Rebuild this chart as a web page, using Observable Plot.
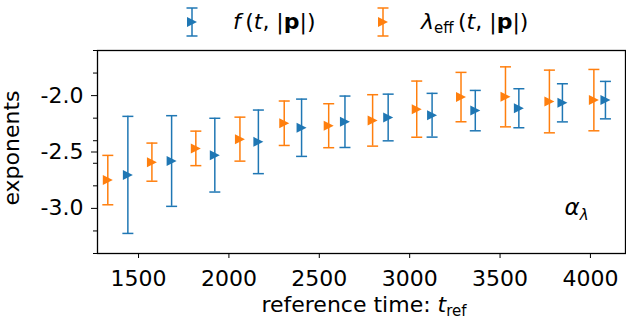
<!DOCTYPE html>
<html>
<head>
<meta charset="utf-8">
<script src="https://cdn.jsdelivr.net/npm/d3@7"></script>
<script src="https://cdn.jsdelivr.net/npm/@observablehq/plot@0.6"></script>
<style>
  html, body { margin: 0; padding: 0; background: #fff; }
  #wrap { position: relative; width: 626px; height: 321px; font-family: "DejaVu Sans", sans-serif; }
  .leg { position: absolute; top: 0; font-size: 22px; line-height: 1; white-space: nowrap; }
  .leg i { font-style: italic; }
  .leg sub { font-size: 15px; vertical-align: -4px; font-style: normal; }
</style>
</head>
<body>
<div id="wrap"></div>
<script>
// λ_eff(t,|p|) series (orange)
const tLambda = [1330, 1574, 1817, 2061, 2306, 2552, 2795, 3039, 3284, 3530, 3773, 4019];
const lambdaVal = [-2.749, -2.590, -2.468, -2.386, -2.245, -2.267, -2.220, -2.120, -2.013, -2.011, -2.052, -2.040];
const lambdaErr = [0.219, 0.169, 0.153, 0.195, 0.197, 0.195, 0.228, 0.249, 0.219, 0.266, 0.278, 0.272];
// f(t,|p|) series (blue)
const tF = [1441, 1683, 1922, 2163, 2402, 2642, 2881, 3124, 3363, 3604, 3845, 4083];
const fVal = [-2.703, -2.580, -2.528, -2.410, -2.285, -2.232, -2.194, -2.174, -2.133, -2.112, -2.064, -2.040];
const fErr = [0.519, 0.402, 0.327, 0.282, 0.254, 0.228, 0.207, 0.194, 0.179, 0.173, 0.169, 0.166];
// ticks
const xTicks = [1500, 2000, 2500, 3000, 3500, 4000];
const yTicks = [-3.0, -2.5, -2.0];
const yMinorTicks = [-3.4, -3.2, -2.8, -2.6, -2.4, -2.2, -1.8, -1.6];

const BLUE = "#1f77b4", ORANGE = "#ff7f0e";

const fData = tF.map((t, i) => ({t, v: fVal[i], lo: fVal[i] - fErr[i], hi: fVal[i] + fErr[i]}));
const lData = tLambda.map((t, i) => ({t, v: lambdaVal[i], lo: lambdaVal[i] - lambdaErr[i], hi: lambdaVal[i] + lambdaErr[i]}));

const triRight = {draw(ctx, size) { const r = Math.sqrt(size / Math.PI); ctx.moveTo(r, 0); ctx.lineTo(-r, -r); ctx.lineTo(-r, r); ctx.closePath(); }};
const cap = {draw(ctx, size) { const r = Math.sqrt(size / Math.PI); ctx.moveTo(-r, 0); ctx.lineTo(r, 0); }};

function series(data, color) {
  return [
    Plot.ruleX(data, {x: "t", y1: "lo", y2: "hi", stroke: color, strokeWidth: 1.5}),
    Plot.dot(data, {x: "t", y: "lo", symbol: cap, r: 5.5, stroke: color, strokeWidth: 1.5, fill: "none"}),
    Plot.dot(data, {x: "t", y: "hi", symbol: cap, r: 5.5, stroke: color, strokeWidth: 1.5, fill: "none"}),
    Plot.dot(data, {x: "t", y: "v", symbol: triRight, r: 5, fill: color, stroke: "none"})
  ];
}

const chart = Plot.plot({
  width: 626,
  height: 321,
  marginTop: 50,
  marginLeft: 97,
  marginRight: 1,
  marginBottom: 68,
  style: {fontFamily: "DejaVu Sans, sans-serif", fontSize: "22px", color: "black", background: "white"},
  x: {domain: [1273, 4194]},
  y: {domain: [-3.4, -1.6]},
  marks: [
    Plot.axisX(xTicks, {tickSize: 5, tickPadding: 12, tickFormat: d => String(d), label: null, fontSize: 22}),
    Plot.axisY(yTicks, {tickSize: 6, tickPadding: 8, tickFormat: d => d.toFixed(1), label: null, fontSize: 22}),
    Plot.axisY(yMinorTicks, {tickSize: 4, tickFormat: () => "", label: null}),
    ...series(fData, BLUE),
    ...series(lData, ORANGE),
    Plot.text(["α"], {frameAnchor: "bottom-right", dx: -61, dy: -39, textAnchor: "start", lineAnchor: "bottom", fontSize: 23, fontStyle: "italic", className: "alabel"}),
    Plot.frame({stroke: "black", strokeWidth: 1.3})
  ]
});

document.getElementById("wrap").appendChild(chart);
const svg = d3.select(chart);
// subscript on the α annotation
svg.selectAll(".alabel text").append("tspan").attr("font-style", "italic").attr("font-size", 15).attr("dy", 5).text("λ");

// axis labels
svg.append("text")
  .attr("transform", "translate(19,148) rotate(-90)")
  .attr("text-anchor", "middle")
  .attr("font-size", 22)
  .attr("fill", "black")
  .text("exponents");
const xl = svg.append("text")
  .attr("x", 364).attr("y", 312)
  .attr("text-anchor", "middle")
  .attr("font-size", 22)
  .attr("fill", "black");
xl.append("tspan").text("reference time: ");
xl.append("tspan").attr("font-style", "italic").text("t");
xl.append("tspan").attr("font-size", 15).attr("dy", 4).text("ref");

// legend
const wrap = document.getElementById("wrap");
function swatch(color, left) {
  const s = d3.create("svg").attr("width", 14).attr("height", 32)
    .style("position", "absolute").style("left", (left - 7) + "px").style("top", "6px");
  s.append("line").attr("x1", 7).attr("x2", 7).attr("y1", 2).attr("y2", 30).attr("stroke", color).attr("stroke-width", 1.5);
  s.append("line").attr("x1", 1.5).attr("x2", 12.5).attr("y1", 2).attr("y2", 2).attr("stroke", color).attr("stroke-width", 1.5);
  s.append("line").attr("x1", 1.5).attr("x2", 12.5).attr("y1", 30).attr("y2", 30).attr("stroke", color).attr("stroke-width", 1.5);
  s.append("path").attr("d", "M12,16L2,11L2,21Z").attr("fill", color);
  wrap.appendChild(s.node());
}
swatch(BLUE, 192);
swatch(ORANGE, 383);
const l1 = document.createElement("div");
l1.className = "leg"; l1.style.left = "233px"; l1.style.top = "11px";
l1.innerHTML = '<i>f</i>&#8201;(<i>t</i>, |<b>p</b>|)';
wrap.appendChild(l1);
const l2 = document.createElement("div");
l2.className = "leg"; l2.style.left = "421px"; l2.style.top = "11px";
l2.innerHTML = '<i>λ</i><sub>eff</sub>&#8201;(<i>t</i>, |<b>p</b>|)';
wrap.appendChild(l2);
</script>
</body>
</html>
